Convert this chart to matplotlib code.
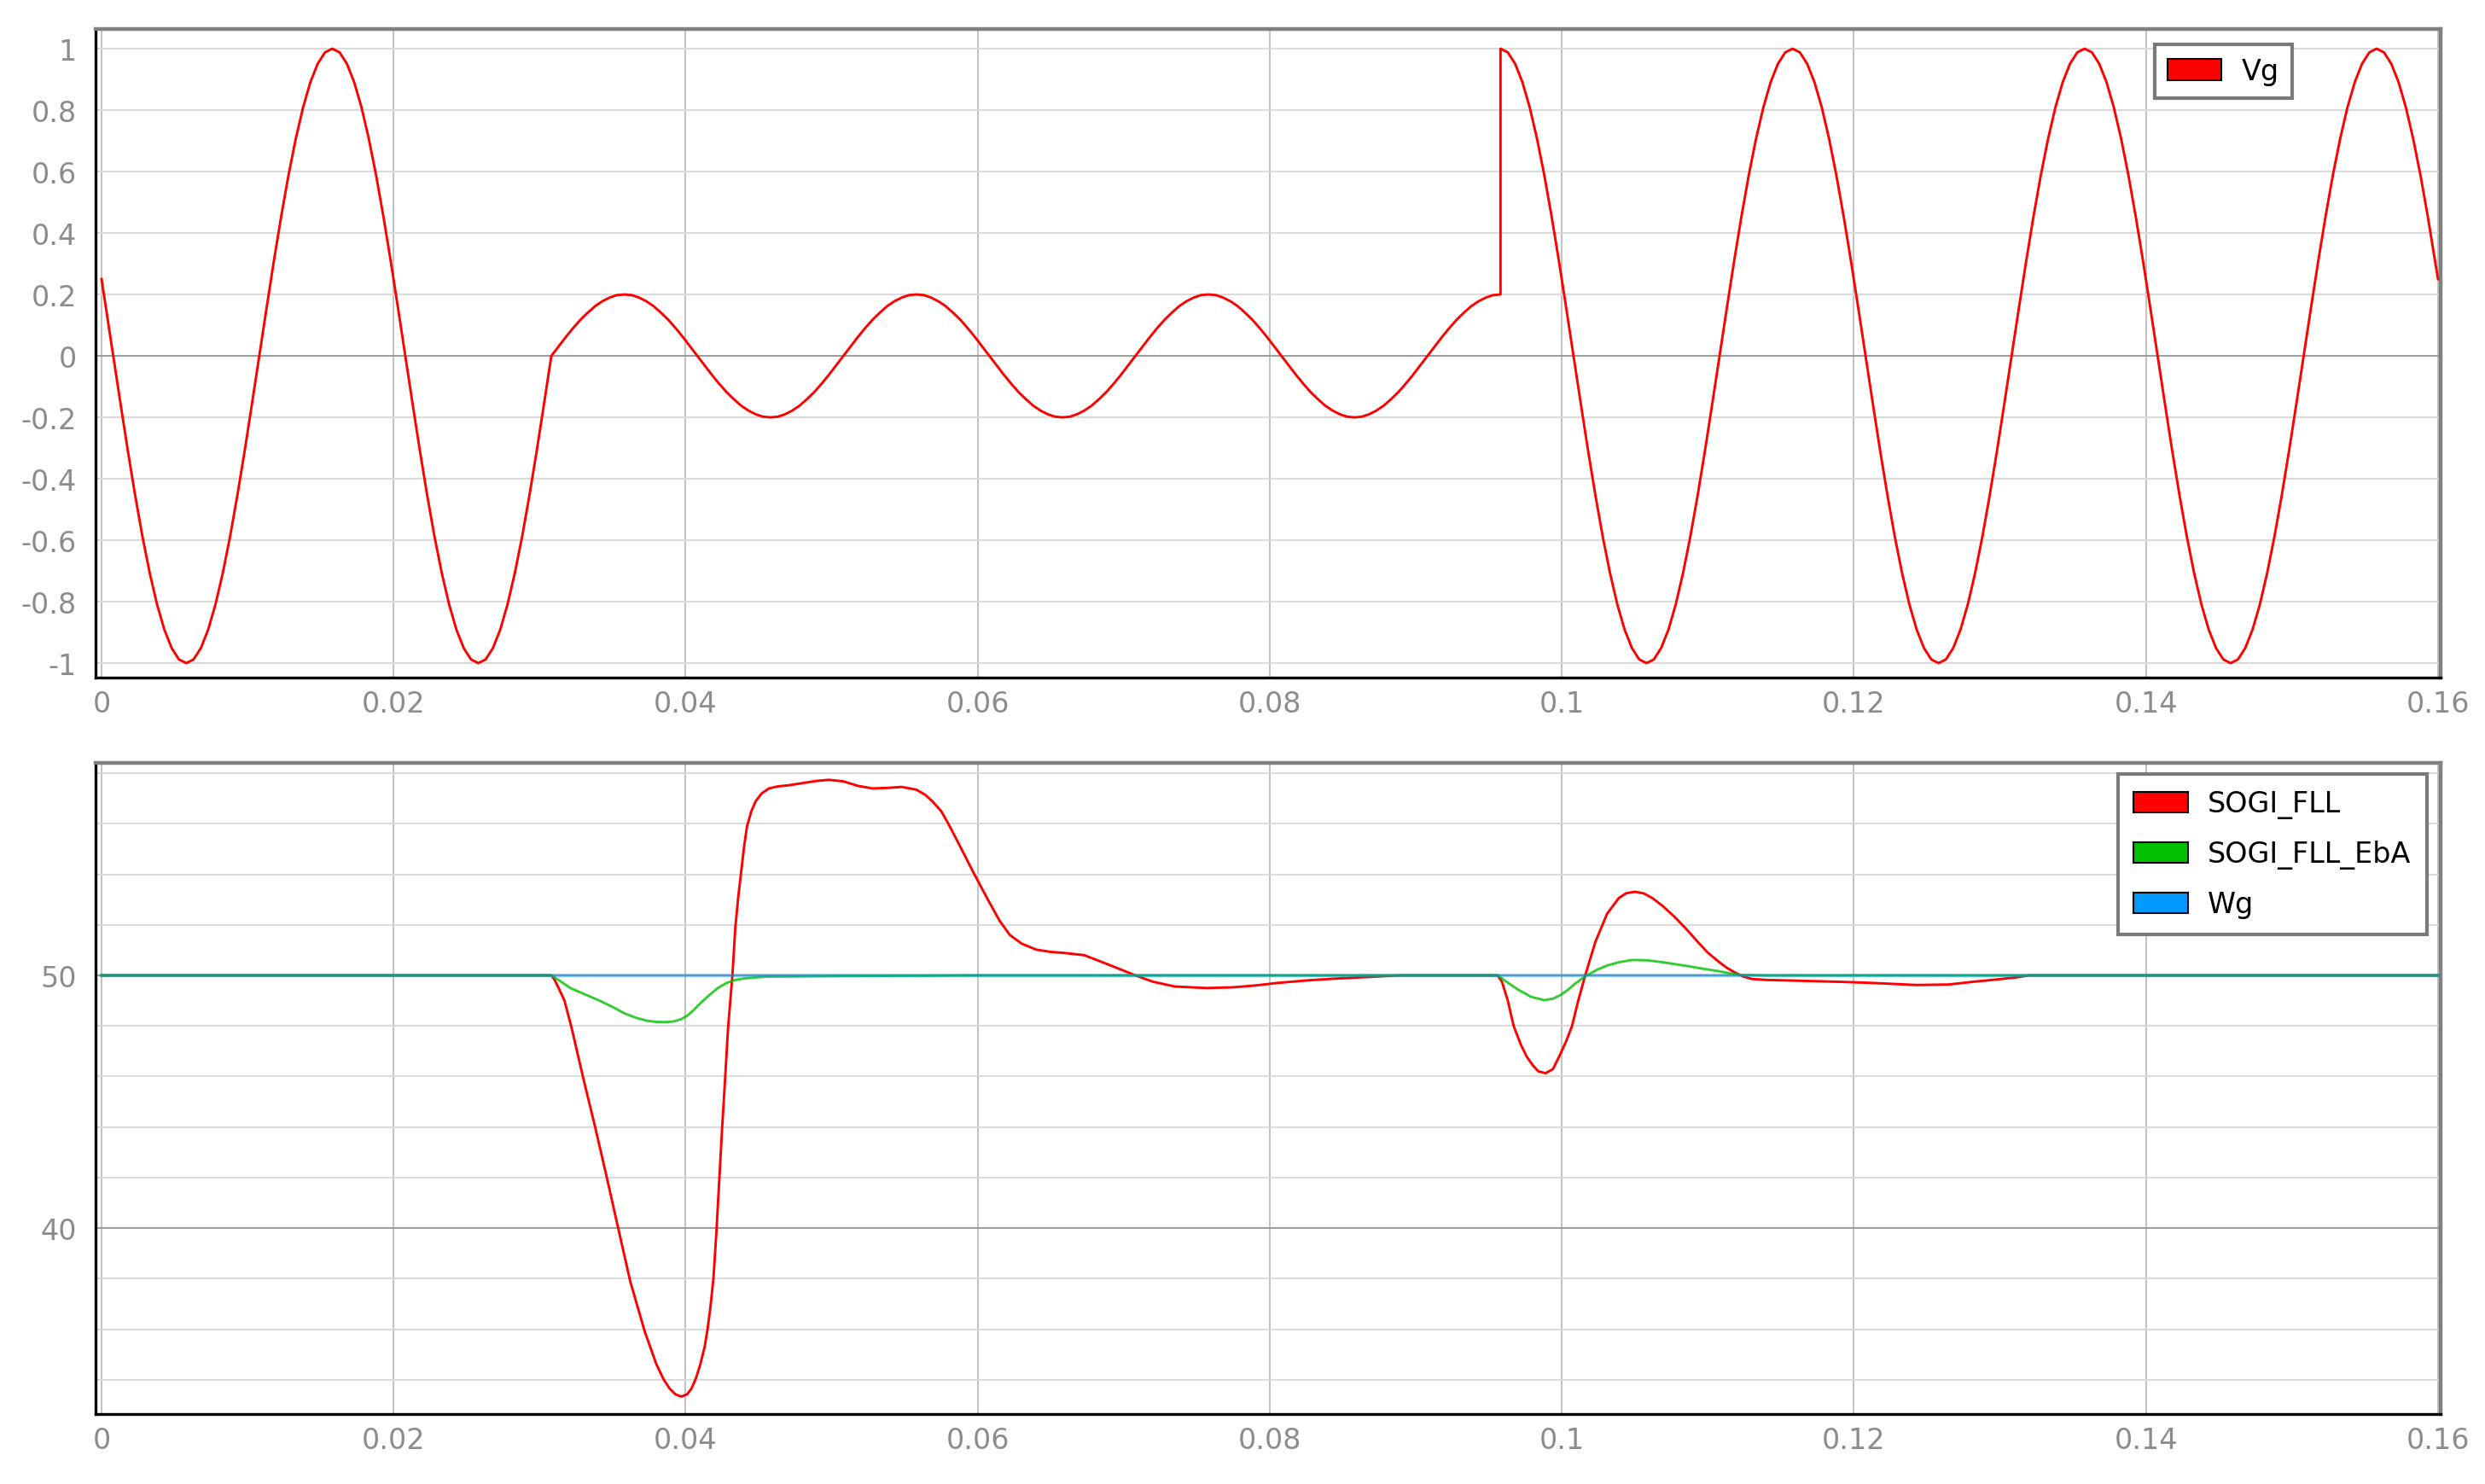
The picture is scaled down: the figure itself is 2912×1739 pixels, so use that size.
import numpy as np
import matplotlib
matplotlib.use("Agg")
import matplotlib.pyplot as plt
from matplotlib.patches import Patch
from matplotlib.ticker import FuncFormatter

# ---------------- data ----------------
# Vg (top panel), sampled every VG_DT seconds, in three segments
VG_DT = 0.0005
vg_start_point = (0.0, 0.25)
vg_end_point = (0.16, 0.25)

vg_seg1_t0 = 0.0003
vg_seg1 = [
    0.156, 0.0,
    -0.156, -0.309, -0.454, -0.588, -0.707, -0.809, -0.891, -0.951, -0.988, -1.0,
    -0.988, -0.951, -0.891, -0.809, -0.707, -0.588, -0.454, -0.309, -0.156, 0.0,
    0.156, 0.309, 0.454, 0.588, 0.707, 0.809, 0.891, 0.951, 0.988, 1.0,
    0.988, 0.951, 0.891, 0.809, 0.707, 0.588, 0.454, 0.309, 0.156, 0.0,
    -0.156, -0.309, -0.454, -0.588, -0.707, -0.809, -0.891, -0.951, -0.988, -1.0,
    -0.988, -0.951, -0.891, -0.809, -0.707, -0.588, -0.454, -0.309, -0.156, 0.0,
]

vg_seg2_t0 = 0.0308
vg_seg2 = [
    0.0, 0.031, 0.062, 0.091, 0.118, 0.141, 0.162, 0.178, 0.190, 0.198,
    0.2, 0.198, 0.190, 0.178, 0.162, 0.141, 0.118, 0.091, 0.062, 0.031,
    0.0, -0.031, -0.062, -0.091, -0.118, -0.141, -0.162, -0.178, -0.190, -0.198,
    -0.2, -0.198, -0.190, -0.178, -0.162, -0.141, -0.118, -0.091, -0.062, -0.031,
    0.0, 0.031, 0.062, 0.091, 0.118, 0.141, 0.162, 0.178, 0.190, 0.198,
    0.2, 0.198, 0.190, 0.178, 0.162, 0.141, 0.118, 0.091, 0.062, 0.031,
    0.0, -0.031, -0.062, -0.091, -0.118, -0.141, -0.162, -0.178, -0.190, -0.198,
    -0.2, -0.198, -0.190, -0.178, -0.162, -0.141, -0.118, -0.091, -0.062, -0.031,
    0.0, 0.031, 0.062, 0.091, 0.118, 0.141, 0.162, 0.178, 0.190, 0.198,
    0.2, 0.198, 0.190, 0.178, 0.162, 0.141, 0.118, 0.091, 0.062, 0.031,
    0.0, -0.031, -0.062, -0.091, -0.118, -0.141, -0.162, -0.178, -0.190, -0.198,
    -0.2, -0.198, -0.190, -0.178, -0.162, -0.141, -0.118, -0.091, -0.062, -0.031,
    0.0, 0.031, 0.062, 0.091, 0.118, 0.141, 0.162, 0.178, 0.190, 0.198,
    0.2,
]

vg_seg3_t0 = 0.0958
vg_seg3 = [
    1.0, 0.988, 0.951, 0.891, 0.809, 0.707, 0.588, 0.454, 0.309, 0.156,
    0.0, -0.156, -0.309, -0.454, -0.588, -0.707, -0.809, -0.891, -0.951, -0.988,
    -1.0, -0.988, -0.951, -0.891, -0.809, -0.707, -0.588, -0.454, -0.309, -0.156,
    0.0, 0.156, 0.309, 0.454, 0.588, 0.707, 0.809, 0.891, 0.951, 0.988,
    1.0, 0.988, 0.951, 0.891, 0.809, 0.707, 0.588, 0.454, 0.309, 0.156,
    0.0, -0.156, -0.309, -0.454, -0.588, -0.707, -0.809, -0.891, -0.951, -0.988,
    -1.0, -0.988, -0.951, -0.891, -0.809, -0.707, -0.588, -0.454, -0.309, -0.156,
    0.0, 0.156, 0.309, 0.454, 0.588, 0.707, 0.809, 0.891, 0.951, 0.988,
    1.0, 0.988, 0.951, 0.891, 0.809, 0.707, 0.588, 0.454, 0.309, 0.156,
    0.0, -0.156, -0.309, -0.454, -0.588, -0.707, -0.809, -0.891, -0.951, -0.988,
    -1.0, -0.988, -0.951, -0.891, -0.809, -0.707, -0.588, -0.454, -0.309, -0.156,
    0.0, 0.156, 0.309, 0.454, 0.588, 0.707, 0.809, 0.891, 0.951, 0.988,
    1.0, 0.988, 0.951, 0.891, 0.809, 0.707, 0.588, 0.454, 0.309,
]

# SOGI_FLL frequency estimate (bottom panel)
sogi_t = [0.0, 0.0308, 0.0310, 0.0313, 0.0317, 0.0322, 0.0330, 0.0338, 0.0346, 0.0353,
          0.0362, 0.0372, 0.0380, 0.0385, 0.0389, 0.0393, 0.0397, 0.0401, 0.0404, 0.0407,
          0.0410, 0.0413, 0.0415, 0.0417, 0.0419, 0.0421, 0.0423, 0.0425, 0.0427, 0.0429,
          0.0432, 0.0434, 0.0436, 0.0438, 0.0440, 0.0442, 0.0445, 0.0448, 0.0452, 0.0457,
          0.0463, 0.0470, 0.0481, 0.0490, 0.0498, 0.0508, 0.0518, 0.0528, 0.0538, 0.0548,
          0.0558, 0.0564, 0.0569, 0.0575, 0.0580, 0.0588, 0.0597, 0.0606, 0.0615, 0.0622,
          0.0630, 0.0640, 0.0650, 0.0659, 0.0673, 0.0689, 0.0708, 0.0720, 0.0735, 0.0757,
          0.0775, 0.0790, 0.0805, 0.0825, 0.0844, 0.0865, 0.0889, 0.0956, 0.0959, 0.0963,
          0.0967, 0.0972, 0.0976, 0.0980, 0.0984, 0.0989, 0.0994, 0.0999, 0.1003, 0.1007,
          0.1011, 0.1016, 0.1023, 0.1031, 0.1039, 0.1044, 0.1050, 0.1056, 0.1062, 0.1069,
          0.1077, 0.1085, 0.1093, 0.1100, 0.1107, 0.1113, 0.1118, 0.1124, 0.1130, 0.1140,
          0.1155, 0.1175, 0.1194, 0.1213, 0.1243, 0.1265, 0.1282, 0.1298, 0.1311, 0.1320,
          0.16]
sogi_f = [50.0, 50.0, 49.85, 49.5, 49.0, 47.9, 45.9, 44.0, 42.0, 40.2,
          37.9, 35.9, 34.6, 34.0, 33.65, 33.42, 33.33, 33.42, 33.65, 34.05,
          34.6, 35.3, 36.0, 36.9, 38.0, 39.8, 41.9, 44.0, 45.9, 47.9,
          50.0, 51.9, 53.1, 54.1, 55.1, 55.9, 56.5, 56.9, 57.2, 57.4,
          57.48, 57.52, 57.62, 57.7, 57.74, 57.68, 57.5, 57.4, 57.42, 57.46,
          57.35, 57.15, 56.89, 56.5, 55.99, 55.1, 54.08, 53.1, 52.16, 51.6,
          51.26, 51.02, 50.93, 50.89, 50.8, 50.44, 50.0, 49.75, 49.56, 49.5,
          49.53, 49.6, 49.7, 49.8, 49.87, 49.93, 50.0, 50.0, 49.75, 49.0,
          48.0, 47.25, 46.78, 46.45, 46.2, 46.13, 46.3, 46.89, 47.4, 48.0,
          48.95, 50.0, 51.33, 52.44, 53.06, 53.25, 53.31, 53.25, 53.06, 52.75,
          52.33, 51.85, 51.33, 50.9, 50.56, 50.3, 50.13, 49.96, 49.86, 49.82,
          49.8, 49.77, 49.74, 49.7, 49.62, 49.64, 49.75, 49.84, 49.92, 50.0,
          50.0]

# SOGI_FLL_EbA frequency estimate
eba_t = [0.0, 0.0308, 0.0314, 0.0321, 0.0331, 0.0341, 0.0350, 0.0358, 0.0366, 0.0374,
         0.0380, 0.0386, 0.0392, 0.0397, 0.0401, 0.0405, 0.0411, 0.0417, 0.0422, 0.0428,
         0.0434, 0.0440, 0.0455, 0.0500, 0.0600, 0.0956, 0.0962, 0.0970, 0.0979, 0.0988,
         0.0994, 0.0999, 0.1004, 0.1009, 0.1017, 0.1024, 0.1031, 0.1039, 0.1048, 0.1058,
         0.1068, 0.1077, 0.1087, 0.1097, 0.1107, 0.1115, 0.1122, 0.1140, 0.16]
eba_f = [50.0, 50.0, 49.78, 49.5, 49.25, 49.0, 48.75, 48.5, 48.32, 48.2,
         48.16, 48.15, 48.18, 48.27, 48.4, 48.6, 48.95, 49.26, 49.5, 49.7,
         49.82, 49.88, 49.95, 49.97, 50.0, 50.0, 49.75, 49.44, 49.15, 49.02,
         49.08, 49.22, 49.42, 49.67, 50.0, 50.22, 50.39, 50.52, 50.61, 50.6,
         50.53, 50.45, 50.36, 50.26, 50.17, 50.08, 50.02, 50.0, 50.0]

# Wg grid frequency
wg_t = [0.0, 0.16]
wg_f = [50.0, 50.0]

top_series = ["Vg"]
bottom_series = ["SOGI_FLL", "SOGI_FLL_EbA", "Wg"]

x_ticks = [0, 0.02, 0.04, 0.06, 0.08, 0.1, 0.12, 0.14, 0.16]
top_y_ticks = [-1, -0.8, -0.6, -0.4, -0.2, 0, 0.2, 0.4, 0.6, 0.8, 1]
bottom_y_major = [40, 50]
bottom_y_minor = [34, 36, 38, 42, 44, 46, 48, 52, 54, 56, 58]

# ---------------- assemble Vg ----------------
t1 = vg_seg1_t0 + VG_DT * np.arange(len(vg_seg1))
t2 = vg_seg2_t0 + VG_DT * np.arange(len(vg_seg2))
t3 = vg_seg3_t0 + VG_DT * np.arange(len(vg_seg3))
vg_t = np.concatenate([[vg_start_point[0]], t1, t2, t3, [vg_end_point[0]]])
vg_v = np.concatenate([[vg_start_point[1]], vg_seg1, vg_seg2, vg_seg3, [vg_end_point[1]]])

# ---------------- style ----------------
RED = "#ff0000"
GREEN = "#00c000"
BLUE = "#0096ff"
LABEL_GRAY = "#8c8c8c"
GRID_LIGHT = "#dadada"
GRID_MID = "#b8b8b8"
GRID_DARK = "#9a9a9a"
FS = 24

W, H = 2912, 1740
fig = plt.figure(figsize=(W / 100, H / 100), dpi=100)
fig.patch.set_facecolor("white")


def px_axes(l, t, r, b):
    return fig.add_axes([l / W, 1 - b / H, (r - l) / W, (b - t) / H])


ax1 = px_axes(112, 35, 2860, 795)
ax2 = px_axes(112, 895, 2860, 1658)

fmt = FuncFormatter(lambda v, p: "%g" % round(v, 6))

for ax in (ax1, ax2):
    ax.set_xlim(-0.00041, 0.16018)
    ax.set_xticks(x_ticks)
    ax.xaxis.set_major_formatter(fmt)
    ax.set_axisbelow(True)
    ax.tick_params(axis="both", which="both", length=0, labelsize=FS,
                   labelcolor=LABEL_GRAY)
    ax.tick_params(axis="x", pad=10)
    ax.tick_params(axis="y", pad=16)
    ax.spines["left"].set_color("black")
    ax.spines["bottom"].set_color("black")
    ax.spines["left"].set_linewidth(2.4)
    ax.spines["bottom"].set_linewidth(2.4)
    ax.spines["top"].set_color("#808080")
    ax.spines["right"].set_color("#808080")
    ax.spines["top"].set_linewidth(3.2)
    ax.spines["right"].set_linewidth(3.2)
    ax.xaxis.grid(True, which="major", color=GRID_MID, linewidth=1.2)

# ---- top panel ----
ax1.set_ylim(-1.047, 1.064)
ax1.set_yticks(top_y_ticks)
ax1.yaxis.set_major_formatter(fmt)
ax1.yaxis.grid(True, which="major", color=GRID_LIGHT, linewidth=1.4)
for gl, tv in zip(ax1.get_ygridlines(), top_y_ticks):
    if tv == 0:
        gl.set_color(GRID_DARK)
ax1.plot(vg_t, vg_v, color=RED, linewidth=2.1, zorder=3)

leg1 = ax1.legend(
    handles=[Patch(facecolor=RED, edgecolor="black", linewidth=1.5, label=top_series[0])],
    loc="upper left", bbox_to_anchor=((2525 - 112) / 2748, (795 - 53) / 760),
    borderaxespad=0, fancybox=False, framealpha=1, edgecolor="#7a7a7a",
    fontsize=FS, handlelength=1.9, handleheight=0.75, handletextpad=0.7,
    borderpad=0.45)
leg1.get_frame().set_linewidth(3)

# ---- bottom panel ----
ax2.set_ylim(32.64, 58.41)
ax2.set_yticks(bottom_y_major)
ax2.set_yticks(bottom_y_minor, minor=True)
ax2.yaxis.set_major_formatter(fmt)
ax2.yaxis.grid(True, which="major", color=GRID_DARK, linewidth=1.4)
ax2.yaxis.grid(True, which="minor", color=GRID_LIGHT, linewidth=1.4)

ax2.plot(sogi_t, sogi_f, color=RED, linewidth=2.1, zorder=3)
ax2.plot(eba_t, eba_f, color=GREEN, linewidth=2.1, alpha=0.8, zorder=4)
ax2.plot(wg_t, wg_f, color=BLUE, linewidth=3.0, alpha=0.45, zorder=5)

leg2 = ax2.legend(
    handles=[Patch(facecolor=c, edgecolor="black", linewidth=1.5, label=n)
             for c, n in zip([RED, GREEN, "#0099ff"], bottom_series)],
    loc="upper left", bbox_to_anchor=((2482 - 112) / 2748, (1658 - 908) / 763),
    borderaxespad=0, fancybox=False, framealpha=1, edgecolor="#7a7a7a",
    fontsize=FS, handlelength=1.9, handleheight=0.75, handletextpad=0.7,
    borderpad=0.55, labelspacing=0.75)
leg2.get_frame().set_linewidth(3)

fig.savefig("out.png", dpi=100, facecolor="white")
